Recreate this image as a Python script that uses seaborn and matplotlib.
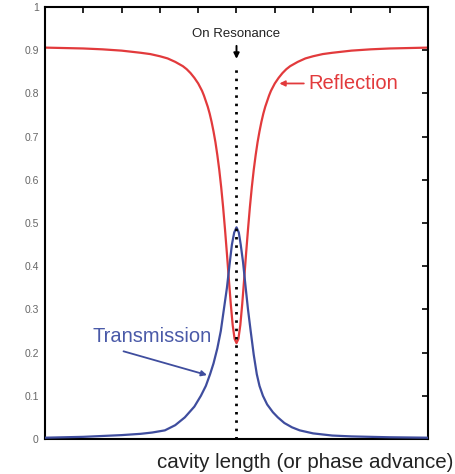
import matplotlib
matplotlib.use("Agg")
import matplotlib.pyplot as plt
import seaborn as sns
import pandas as pd

# Detuning from resonance (arbitrary units) and the two cavity responses
refl_x = [-5, -4, -3.5, -3, -2.5, -2.25, -2, -1.8, -1.6, -1.4, -1.3, -1.2, -1.1,
          -1.0, -0.9, -0.85, -0.75, -0.7, -0.65, -0.6, -0.55, -0.5, -0.45, -0.4,
          -0.35, -0.3, -0.25, -0.2, -0.15, -0.1, -0.05, 0,
          0.05, 0.1, 0.15, 0.2, 0.25, 0.3, 0.35, 0.4, 0.45, 0.5, 0.55, 0.6, 0.65,
          0.7, 0.75, 0.85, 0.9, 1.0, 1.1, 1.2, 1.3, 1.4, 1.6, 1.8, 2, 2.25, 2.5,
          3, 3.5, 4, 5]
refl_y = [0.906, 0.904, 0.902, 0.899, 0.894, 0.891, 0.886, 0.881, 0.873, 0.863,
          0.856, 0.847, 0.836, 0.823, 0.806, 0.795, 0.769, 0.753, 0.734, 0.712,
          0.687, 0.657, 0.623, 0.583, 0.537, 0.485, 0.429, 0.370, 0.313, 0.264,
          0.232, 0.222,
          0.232, 0.264, 0.313, 0.370, 0.429, 0.485, 0.537, 0.583, 0.623, 0.657,
          0.687, 0.712, 0.734, 0.753, 0.769, 0.795, 0.806, 0.823, 0.836, 0.847,
          0.856, 0.863, 0.873, 0.881, 0.886, 0.891, 0.894, 0.899, 0.902, 0.904,
          0.906]

trans_x = [-5, -4, -3, -2.5, -2.2, -1.87, -1.6, -1.35, -1.2, -1.1, -0.93, -0.8,
           -0.69, -0.6, -0.5, -0.41, -0.33, -0.25, -0.18, -0.12, -0.06, 0,
           0.06, 0.11, 0.17, 0.24, 0.3, 0.37, 0.45, 0.53, 0.6, 0.69, 0.8, 0.95,
           1.08, 1.25, 1.45, 1.65, 2, 2.5, 3, 4, 5]
trans_y = [0.003, 0.005, 0.009, 0.012, 0.015, 0.020, 0.032, 0.050, 0.065, 0.075,
           0.100, 0.123, 0.150, 0.175, 0.210, 0.250, 0.300, 0.350, 0.405, 0.450,
           0.478, 0.490,
           0.478, 0.450, 0.410, 0.350, 0.300, 0.250, 0.195, 0.150, 0.123, 0.100,
           0.080, 0.062, 0.050, 0.037, 0.027, 0.020, 0.013, 0.008, 0.006, 0.004,
           0.003]

y_ticks = [0, 0.1, 0.2, 0.3, 0.4, 0.5, 0.6, 0.7, 0.8, 0.9, 1]
y_tick_labels = ["0", "0.1", "0.2", "0.3", "0.4", "0.5", "0.6", "0.7", "0.8", "0.9", "1"]
x_ticks = [-5, -4, -3, -2, -1, 0, 1, 2, 3, 4, 5]

RED = "#e23a3c"
BLUE = "#3f4d9e"

sns.set_style("white")
plt.rcParams["font.family"] = ["Liberation Sans", "DejaVu Sans"]

fig = plt.figure(figsize=(4.56, 4.74), dpi=100)
ax = fig.add_axes([45 / 456, 1 - 439 / 474, 383 / 456, 432 / 474])

refl = pd.DataFrame({"x": refl_x, "y": refl_y})
trans = pd.DataFrame({"x": trans_x, "y": trans_y})
sns.lineplot(data=refl, x="x", y="y", color=RED, linewidth=1.6, ax=ax,
             sort=False, zorder=2)
sns.lineplot(data=trans, x="x", y="y", color=BLUE, linewidth=1.6, ax=ax,
             sort=False, zorder=3)

# Resonance marker: dotted line plus a small downward arrow
ax.plot([0, 0], [0, 0.865], color="black", linewidth=2.0,
        linestyle=(0, (0.9, 2.1)), zorder=4)
ax.annotate("", xy=(0, 0.88), xytext=(0, 0.91),
            arrowprops=dict(arrowstyle="-|>", color="black", lw=1.4,
                            mutation_scale=8, shrinkA=0, shrinkB=0), zorder=5)
ax.text(0, 0.937, "On Resonance", ha="center", va="center", fontsize=9.5,
        color="#222222")

# Curve labels with pointers
ax.annotate("Reflection", xy=(1.12, 0.823), xytext=(1.88, 0.823),
            ha="left", va="center", fontsize=14.5, color=RED,
            arrowprops=dict(arrowstyle="-|>", color=RED, lw=1.3,
                            mutation_scale=8, shrinkA=1, shrinkB=0))
ax.text(-3.77, 0.237, "Transmission", ha="left", va="center", fontsize=14.5,
        color="#4a5aa8")
ax.annotate("", xy=(-0.77, 0.148), xytext=(-2.95, 0.203),
            arrowprops=dict(arrowstyle="-|>", color=BLUE, lw=1.3,
                            mutation_scale=8, shrinkA=0, shrinkB=0))

ax.set_xlim(-5, 5)
ax.set_ylim(0, 1)
ax.set_xticks(x_ticks)
ax.set_xticklabels([])
ax.set_yticks(y_ticks)
ax.set_yticklabels(y_tick_labels)
ax.set_xlabel("")
ax.set_ylabel("")
ax.tick_params(axis="both", direction="in", length=4, width=1.2,
               top=True, right=True, colors="black")
ax.tick_params(axis="y", labelsize=7.5, labelcolor="#666666", pad=4.5)
for side in ax.spines.values():
    side.set_linewidth(1.5)
    side.set_color("black")
    side.set_visible(True)

fig.text(305 / 456, 1 - 463 / 474, "cavity length (or phase advance)",
         ha="center", va="center", fontsize=14.8, color="#222222")

fig.savefig("out.png", dpi=100)
